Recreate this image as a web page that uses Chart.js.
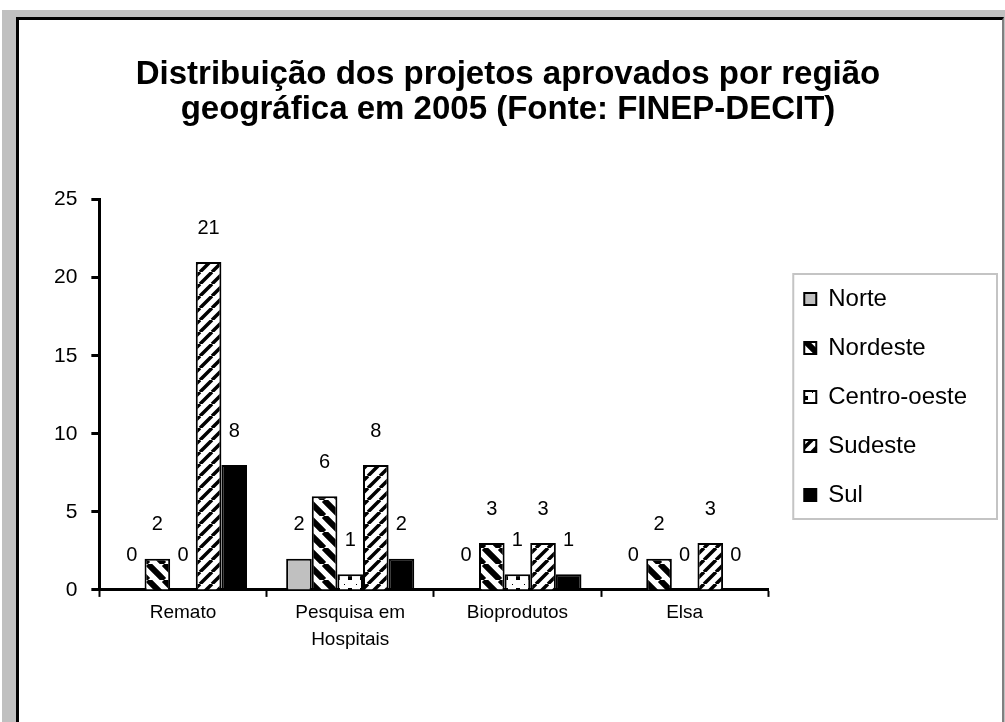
<!DOCTYPE html>
<html>
<head>
<meta charset="utf-8">
<script src="https://cdn.jsdelivr.net/npm/chart.js@4.4.0/dist/chart.umd.min.js"></script>
<style>
  body { margin: 0; background: #fff; }
  #frame { position: absolute; left: 2px; top: 10px; width: 1003px; height: 712px; background: #c0c0c0; }
  #panel { position: absolute; left: 16px; top: 17px; width: 983px; height: 705px; background: #fff;
           border-left: 3px solid #000; border-top: 3px solid #000; border-right: 2px solid #808080; }
  #chart { position: absolute; left: 20px; top: 20px; }
</style>
</head>
<body>
<div id="frame"></div>
<div id="panel"></div>
<canvas id="chart" width="982" height="702"></canvas>
<script>
// === Data ===
const categories = ["Remato", ["Pesquisa em", "Hospitais"], "Bioprodutos", "Elsa"];
const seriesNames = ["Norte", "Nordeste", "Centro-oeste", "Sudeste", "Sul"];
const norte = [0, 2, 0, 0];
const nordeste = [2, 6, 3, 2];
const centroOeste = [0, 1, 1, 0];
const sudeste = [21, 8, 3, 3];
const sul = [8, 2, 1, 0];
const yTicks = [0, 5, 10, 15, 20, 25];

const FONT = "'Liberation Sans', Arial, sans-serif";

const canvas = document.getElementById("chart");
const ctx = canvas.getContext("2d");

// === Fill patterns ===
function stripes(size, width, dir) {
  const c = document.createElement("canvas");
  c.width = c.height = size;
  const g = c.getContext("2d");
  g.fillStyle = "#fff";
  g.fillRect(0, 0, size, size);
  g.strokeStyle = "#000";
  g.lineWidth = width;
  g.beginPath();
  for (let k = -1; k <= 1; k++) {
    if (dir === "/") {
      g.moveTo(k * size, size);
      g.lineTo(k * size + size, 0);
    } else {
      g.moveTo(k * size, 0);
      g.lineTo(k * size + size, size);
    }
  }
  g.stroke();
  return ctx.createPattern(c, "repeat");
}

function crosses() {
  const c = document.createElement("canvas");
  c.width = c.height = 12;
  const g = c.getContext("2d");
  g.fillStyle = "#fff";
  g.fillRect(0, 0, 12, 12);
  g.fillStyle = "#000";
  g.fillRect(4, 4, 2, 2);
  g.fillRect(6, 6, 2, 2);
  g.fillRect(6, 4, 2, 2);
  g.fillRect(4, 6, 2, 2);
  g.fillRect(0, 0, 1, 1);
  return ctx.createPattern(c, "repeat");
}

const fills = ["#c0c0c0", stripes(16, 6, "\\"), crosses(), stripes(12, 3.5, "/"), "#000"];
const values = [norte, nordeste, centroOeste, sudeste, sul];

// === Plugins ===
const valueLabels = {
  id: "valueLabels",
  afterDatasetsDraw(chart) {
    const c = chart.ctx;
    c.save();
    c.font = "20px " + FONT;
    c.fillStyle = "#000";
    c.textAlign = "center";
    c.textBaseline = "middle";
    chart.data.datasets.forEach((ds, i) => {
      chart.getDatasetMeta(i).data.forEach((bar, j) => {
        c.fillText(String(ds.data[j]), bar.x, bar.y - 34);
      });
    });
    c.restore();
  }
};

// move the legend block (and title) into place and draw the legend frame
const legendFrame = {
  id: "legendFrame",
  afterLayout(chart) {
    const lg = chart.legend;
    lg.top += 59;
    lg.bottom += 59;
    lg.left += 11;
    lg.right += 11;
    chart.titleBlock.left += 5;
    chart.titleBlock.right += 5;
  },
  afterDraw(chart) {
    const boxes = chart.legend.legendHitBoxes;
    if (!boxes || !boxes.length) return;
    const first = boxes[0], last = boxes[boxes.length - 1];
    const c = chart.ctx;
    c.save();
    c.strokeStyle = "#c4c4c4";
    c.lineWidth = 2;
    const left = first.left - 11;
    const top = first.top - 13;
    const right = chart.width - 5;
    const bottom = last.top + last.height + 12;
    c.strokeRect(left, top, right - left, bottom - top);
    c.restore();
  }
};

new Chart(ctx, {
  type: "bar",
  data: {
    labels: categories,
    datasets: seriesNames.map((name, i) => ({
      label: name,
      data: values[i],
      backgroundColor: fills[i],
      borderColor: "#000",
      borderWidth: 2,
      categoryPercentage: 0.766,
      barPercentage: 1.0
    }))
  },
  options: {
    responsive: false,
    animation: false,
    layout: { padding: { left: 20, right: 36, top: 0, bottom: 66 } },
    plugins: {
      title: {
        display: true,
        text: ["Distribuição dos projetos aprovados por região", "geográfica em 2005 (Fonte: FINEP-DECIT)"],
        color: "#000",
        font: { family: FONT, size: 33, weight: "bold", lineHeight: 1.07 },
        padding: { top: 37, bottom: 72 }
      },
      legend: {
        position: "right",
        align: "center",
        labels: {
          color: "#000",
          font: { family: FONT, size: 24 },
          boxWidth: 12,
          boxHeight: 12,
          padding: 25
        }
      },
      tooltip: { enabled: false }
    },
    scales: {
      x: {
        grid: { display: true, drawOnChartArea: false, offset: true, tickLength: 7, tickWidth: 2, tickColor: "#000" },
        border: { color: "#000", width: 3 },
        ticks: { color: "#000", font: { family: FONT, size: 19, lineHeight: 1.45 }, padding: 2, maxRotation: 0 }
      },
      y: {
        min: 0,
        max: 25,
        afterBuildTicks(axis) { axis.ticks = yTicks.map(v => ({ value: v })); },
        grid: { display: true, drawOnChartArea: false, tickLength: 8, tickWidth: 3, tickColor: "#000" },
        border: { color: "#000", width: 3 },
        ticks: { color: "#000", font: { family: FONT, size: 21 }, padding: 14 }
      }
    }
  },
  plugins: [valueLabels, legendFrame]
});
</script>
</body>
</html>
